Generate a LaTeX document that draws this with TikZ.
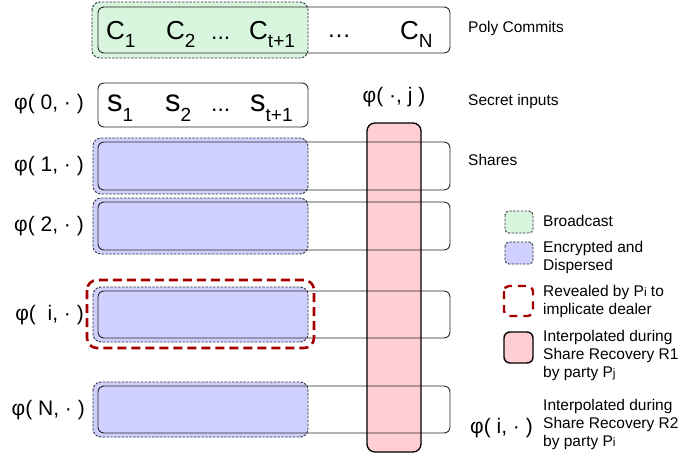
\documentclass[tikz,border=0pt]{standalone}
\usepackage{fontspec}
\setmainfont{Liberation Sans}
\definecolor{grn}{RGB}{216,246,222}
\definecolor{blu}{RGB}{208,208,255}
\definecolor{pnk}{RGB}{255,206,210}
\definecolor{dred}{RGB}{165,0,0}
\definecolor{dsh}{RGB}{50,50,65}
\tikzset{
  zone/.style={draw=dsh, line width=0.9pt, dash pattern=on 2.4pt off 1.4pt, rounded corners=8pt},
  greenzone/.style={zone, fill=grn},
  bluezone/.style={zone, fill=blu},
  rowbox/.style={draw=black!85, line width=0.9pt, rounded corners=6pt},
  colfill/.style={fill=pnk, rounded corners=8pt},
  coldraw/.style={draw=black, line width=1.3pt, rounded corners=8pt},
  redzone/.style={draw=dred, line width=2.6pt, dash pattern=on 9pt off 5pt, rounded corners=10pt},
  lbl/.style={inner sep=0pt, font=\fontsize{15.5}{18}\selectfont, align=left},
  phi/.style={inner sep=0pt, font=\fontsize{21}{24}\selectfont},
  cglyph/.style={inner sep=0pt, anchor=base west, font=\fontsize{26}{28}\selectfont},
  sglyph/.style={inner sep=0pt, anchor=base west, font=\fontsize{31}{34}\selectfont},
}
\newcommand{\subtx}[1]{\raisebox{-8pt}{\fontsize{19}{19}\selectfont #1}}
\newcommand{\ssubtx}[1]{\raisebox{-10pt}{\fontsize{19}{19}\selectfont #1}}
\newcommand{\smi}[1]{{\fontsize{12}{12}\selectfont #1}}
\begin{document}
\begin{tikzpicture}[x=1pt,y=-1pt]
\useasboundingbox (0,0) rectangle (699,458);

% top row: poly commits
\draw[greenzone] (92,2) rectangle (308,58);
\draw[rowbox] (98,7) rectangle (450,53);
\node[cglyph] (c1) at (106,39) {C\subtx{1}};
\node[cglyph] (c2) at (166,39) {C\subtx{2}};
\node[cglyph] (cdots) at (211,39) {\fontsize{23}{23}\selectfont ...};
\node[cglyph] (ct) at (249,39) {C\subtx{t+1}};
\node[cglyph] (cell) at (327,37) {\fontsize{24}{24}\selectfont …};
\node[cglyph] (cN) at (400,39) {C\subtx{N}};

% secret inputs row
\draw[rowbox] (98,83) rectangle (308,127);
\node[sglyph] (s1) at (107,111) {s\ssubtx{1}};
\node[sglyph] (s2) at (165,111) {s\ssubtx{2}};
\node[cglyph] (sdots) at (211,111) {\fontsize{23}{23}\selectfont ...};
\node[sglyph] (st) at (250,111) {s\ssubtx{t+1}};

% pink column fill
\fill[colfill] (367,123) rectangle (421,452);

% share rows
\draw[bluezone] (93,138) rectangle (308,194);
\draw[bluezone] (93,198) rectangle (308,254);
\draw[bluezone] (93,287) rectangle (308,342);
\draw[bluezone] (93,382) rectangle (308,437);
\draw[rowbox] (98,142) rectangle (450,190);
\draw[rowbox] (98,202) rectangle (450,250);
\draw[rowbox] (98,291) rectangle (450,338);
\draw[rowbox] (98,386) rectangle (450,433);

% pink column border
\draw[coldraw] (367,123) rectangle (421,452);

% revealed
\draw[redzone] (87,280) rectangle (314,348);

% left labels
\node[phi, anchor=east] (p0) at (84,104) {φ( 0, · )};
\node[phi, anchor=east] (p1) at (84,166) {φ( 1, · )};
\node[phi, anchor=east] (p2) at (84,226) {φ( 2, · )};
\node[phi, anchor=east] (pi) at (84,315) {φ(\ \ i, · )};
\node[phi, anchor=east] (pN) at (85,410) {φ( N, · )};
\node[phi] (pj) at (394,97) {φ( ·, j )};

% right labels
\node[lbl, anchor=west] (lpc) at (468,28) {Poly Commits};
\node[lbl, anchor=west] (lsi) at (468,101) {Secret inputs};
\node[lbl, anchor=west] (lsh) at (468,160) {Shares};

% legend
\draw[greenzone, rounded corners=4pt] (505,211) rectangle (533,233);
\node[lbl, anchor=west] (lg1) at (543,221) {Broadcast};
\draw[bluezone, rounded corners=4pt] (505,242) rectangle (533,264);
\node[lbl, anchor=west] (lg2) at (543,257) {Encrypted and\\Dispersed};
\draw[redzone, line width=2.4pt, dash pattern=on 8pt off 6pt, rounded corners=5pt] (504,286) rectangle (533,316);
\node[lbl, anchor=west] (lg3) at (543,301) {Revealed by P\smi{i} to\\implicate dealer};
\draw[fill=pnk, draw=black, line width=1.4pt, rounded corners=6pt] (504,332) rectangle (533,363);
\node[lbl, anchor=west] (lg4) at (543,355) {Interpolated during\\Share Recovery R1\\by party P\smi{j}};
\node[phi, anchor=west] (lg5p) at (470,428) {φ( i, · )};
\node[lbl, anchor=west] (lg5) at (543,424) {Interpolated during\\Share Recovery R2\\by party P\smi{i}};
\end{tikzpicture}
\end{document}
